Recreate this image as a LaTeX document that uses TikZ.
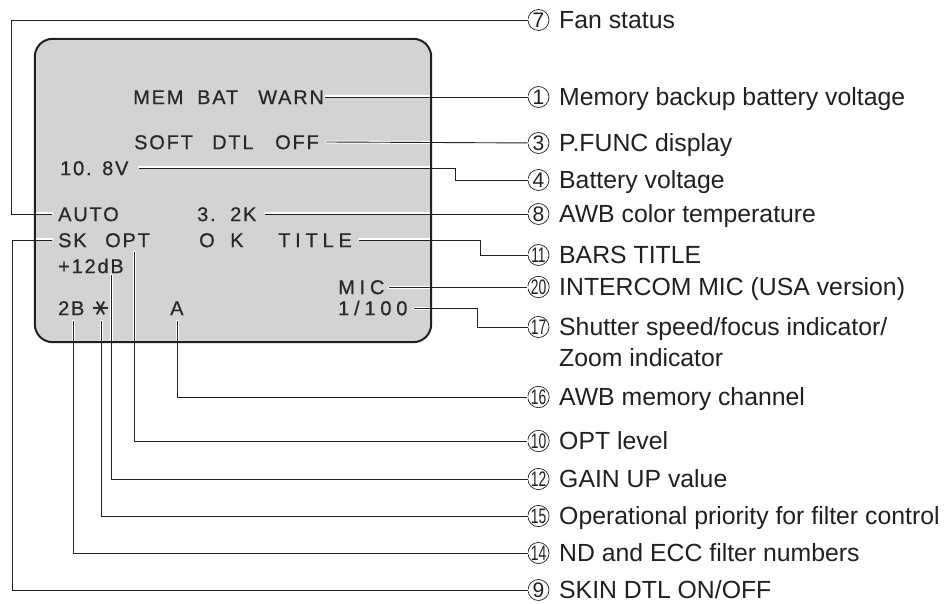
\documentclass[tikz,border=0pt]{standalone}
\usepackage{fontspec}
\setmainfont{Liberation Sans}
\newfontfamily\osdfont{Liberation Sans}[LetterSpace=9, FakeBold=0.6]
\newfontfamily\osdwide{Liberation Sans}[LetterSpace=24, FakeBold=0.6]
\newfontfamily\symfont{DejaVu Sans}
\usetikzlibrary{calc}
\definecolor{screengray}{RGB}{210,211,213}
\definecolor{ink}{RGB}{35,31,32}
\definecolor{osdink}{RGB}{40,40,40}
\begin{document}
\begin{tikzpicture}[x=1pt,y=-1pt,
  screenbox/.style={fill=screengray, rounded corners=18pt, minimum width=396pt, minimum height=303pt, inner sep=0pt},
  border/.style={draw=ink, line width=2pt, rounded corners=18pt},
  osd/.style={anchor=west, inner sep=0pt, text height=14.3pt, text depth=0pt, font=\osdfont\fontsize{20}{22}\selectfont, text=osdink},
  osdw/.style={osd, font=\osdwide\fontsize{20}{22}\selectfont},
  num/.style={circle, draw=ink, line width=0.7pt, minimum size=21pt, inner sep=0pt, font=\fontsize{21}{23}\selectfont, text=ink},
  lbl/.style={anchor=west, inner sep=0pt, text height=17.6pt, text depth=0pt, font=\fontsize{24.8}{28}\selectfont, text=ink},
  conn/.style={draw=ink, line width=0.9pt},
  halo/.style={draw=white, line width=3pt, line cap=round},
]
\useasboundingbox (0,0) rectangle (948,604);
% screen
\node[screenbox] (screen) at (233,190.5) {};
% OSD texts
\node[osd] (w1a) at (133,97) {MEM};
\node[osd] (w1b) at (197,97) {BAT};
\node[osd] (w1c) at (258,97) {WARN};
\node[osd] (w3a) at (134,142) {SOFT};
\node[osd] (w3b) at (212,142) {DTL};
\node[osd] (w3c) at (275,142) {OFF};
\node[osd] (w4a) at (60,168) {10.};
\node[osd] (w4b) at (102,168) {8V};
\node[osd] (w8a) at (58,214) {AUTO};
\node[osd] (w8b) at (197,214) {3.};
\node[osd] (w8c) at (230,214) {2K};
\node[osd] (w9a) at (58,240) {SK};
\node[osd] (w10) at (105,240) {OPT};
\node[osd] (wo) at (199,240) {O};
\node[osd] (wk) at (230,240) {K};
\node[osdw] (w11) at (278,240) {TITLE};
\node[osd] (w12) at (58,266) {+12dB};
\node[osdw] (w20) at (338,287) {MIC};
\node[osd] (w14) at (58,308) {2B};
\node[inner sep=0pt, font=\symfont\fontsize{24}{26}\selectfont, text=osdink] (w15) at (101,308) {\rotatebox[origin=c]{90}{∗}};
\node[osd] (w16) at (170,308) {A};
\node[osdw] (w17) at (338,308) {1/100};
% circled numbers
\node[num] (n7) at (538.5,20) {7};
\node[num] (n1) at (538.5,97) {1};
\node[num] (n3) at (538.5,143) {3};
\node[num] (n4) at (538.5,180) {4};
\node[num] (n8) at (538.5,214) {8};
\node[num] (n11) at (538.5,255) {\scalebox{0.66}[1]{11}};
\node[num] (n20) at (538.5,287) {\scalebox{0.66}[1]{20}};
\node[num] (n17) at (538.5,327) {\scalebox{0.66}[1]{17}};
\node[num] (n16) at (538.5,397) {\scalebox{0.66}[1]{16}};
\node[num] (n10) at (538.5,441) {\scalebox{0.66}[1]{10}};
\node[num] (n12) at (538.5,479) {\scalebox{0.66}[1]{12}};
\node[num] (n15) at (538.5,516) {\scalebox{0.66}[1]{15}};
\node[num] (n14) at (538.5,553) {\scalebox{0.66}[1]{14}};
\node[num] (n9) at (538.5,590) {9};
% labels
\node[lbl] (l7) at (559,20) {Fan status};
\node[lbl] (l1) at (559,97) {Memory backup battery voltage};
\node[lbl] (l3) at (559,143) {P.FUNC display};
\node[lbl] (l4) at (559,180) {Battery voltage};
\node[lbl] (l8) at (559,214) {AWB color temperature};
\node[lbl] (l11) at (559,255) {BARS TITLE};
\node[lbl] (l20) at (559,287) {INTERCOM MIC (USA version)};
\node[lbl] (l17) at (559,327) {Shutter speed/focus indicator/};
\node[lbl] (l17z) at (559,358) {Zoom indicator};
\node[lbl] (l16) at (559,397) {AWB memory channel};
\node[lbl] (l10) at (559,441) {OPT level};
\node[lbl] (l12) at (559,479) {GAIN UP value};
\node[lbl] (l15) at (559,516) {Operational priority for filter control};
\node[lbl] (l14) at (559,553) {ND and ECC filter numbers};
\node[lbl] (l9) at (559,590) {SKIN DTL ON/OFF};
% connector start points and bends
\coordinate (s1) at (325,97);
\coordinate (s3) at (326,142);
\coordinate (s4) at (139,168);  \coordinate (b4) at (455,180);
\coordinate (s8) at (265,214);
\coordinate (s11) at (359,240); \coordinate (b11) at (480,255);
\coordinate (s20) at (389,287);
\coordinate (s17) at (414,308); \coordinate (b17) at (477,327);
\coordinate (s16) at (177,321);
\coordinate (s10) at (134,252);
\coordinate (s12) at (111,275);
\coordinate (s15) at (101,321);
\coordinate (s14) at (73,321);
\coordinate (s7) at (52,214);   \coordinate (b7) at (11.5,20);
\coordinate (s9) at (52,240);   \coordinate (b9) at (12,590);
% halos
\foreach \s/\e in {s1/n1,s3/n3,s8/n8,s20/n20}{\draw[halo] (\s) -- (\e);}
\draw[halo] (s4) -| (b4) -- (n4);
\draw[halo] (s11) -| (b11) -- (n11);
\draw[halo] (s17) -| (b17) -- (n17);
\foreach \s/\e in {s16/n16,s10/n10,s12/n12,s15/n15,s14/n14}{\draw[halo] (\s) |- (\e);}
\draw[halo] (s7) -| (b7) -- (n7);
\draw[halo] (s9) -| (b9) -- (n9);
% screen border
\draw[border] (screen.north west) rectangle (screen.south east);
% connectors
\foreach \s/\e in {s1/n1,s3/n3,s8/n8,s20/n20}{\draw[conn] (\s) -- (\e);}
\draw[conn] (s4) -| (b4) -- (n4);
\draw[conn] (s11) -| (b11) -- (n11);
\draw[conn] (s17) -| (b17) -- (n17);
\foreach \s/\e in {s16/n16,s10/n10,s12/n12,s15/n15,s14/n14}{\draw[conn] (\s) |- (\e);}
\draw[conn] (s7) -| (b7) -- (n7);
\draw[conn] (s9) -| (b9) -- (n9);
\end{tikzpicture}
\end{document}
